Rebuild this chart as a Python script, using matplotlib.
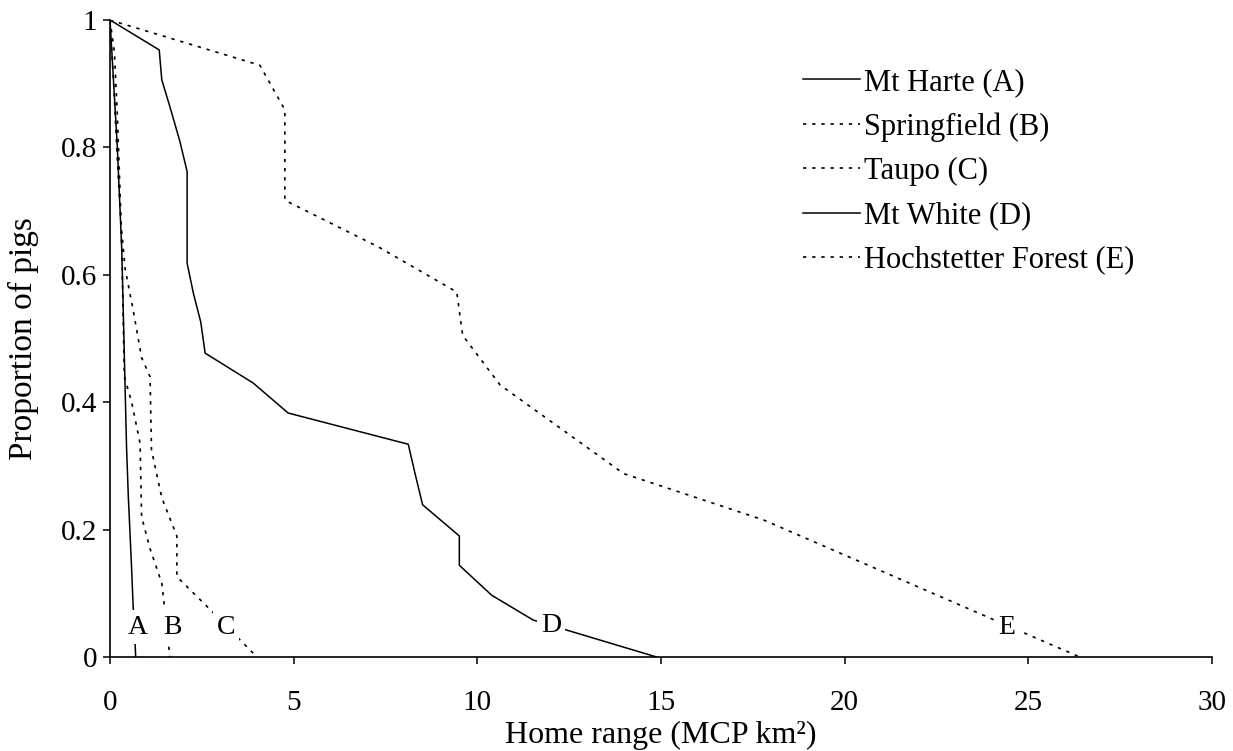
import matplotlib.pyplot as plt
from matplotlib.ticker import FixedLocator, FixedFormatter

plt.rcParams['font.family'] = ['Liberation Serif', 'DejaVu Serif']

# cumulative proportion of pigs vs home range (MCP km2)
harte_x = [0, 0.05, 0.2, 0.32, 0.4, 0.45, 0.5, 0.58, 0.63, 0.7]
harte_y = [1, 0.95, 0.8, 0.64, 0.45, 0.33, 0.25, 0.15, 0.08, 0]

spring_x = [0, 0.12, 0.2, 0.28, 0.33, 0.37, 0.39, 0.59, 0.82, 0.86, 1.09, 1.41, 1.48, 1.63]
spring_y = [1, 0.95, 0.85, 0.72, 0.62, 0.5, 0.44, 0.40, 0.335, 0.22, 0.17, 0.116, 0.08, 0]

taupo_x = [0, 0.1, 0.2, 0.3, 0.41, 0.63, 0.86, 1.09, 1.13, 1.41, 1.82, 1.82, 2.63, 4.0]
taupo_y = [1, 0.9, 0.78, 0.68, 0.61, 0.545, 0.47, 0.44, 0.325, 0.25, 0.19, 0.126, 0.08, 0]

white_x = [0, 1.34, 1.41, 1.63, 1.9, 2.1, 2.1, 2.27, 2.47, 2.59, 3.9, 4.85, 8.12, 8.3,
           8.51, 9.51, 9.51, 10.39, 11.52, 14.88]
white_y = [1, 0.953, 0.906, 0.864, 0.81, 0.762, 0.618, 0.571, 0.526, 0.477, 0.43, 0.383,
           0.334, 0.289, 0.239, 0.19, 0.144, 0.097, 0.058, 0]

hoch_x = [0, 4.08, 4.76, 4.76, 7.3, 9.44, 9.6, 10.62, 13.98, 17.8, 26.4]
hoch_y = [1, 0.929, 0.859, 0.717, 0.644, 0.573, 0.505, 0.427, 0.288, 0.215, 0]

names = ['Mt Harte (A)', 'Springfield (B)', 'Taupo (C)', 'Mt White (D)',
         'Hochstetter Forest (E)']
letters = ['A', 'B', 'C', 'D', 'E']
letter_x = [0.76, 1.69, 3.16, 12.0, 24.4]
letter_y = [0.047, 0.047, 0.047, 0.049, 0.047]

yticks = [0, 0.2, 0.4, 0.6, 0.8, 1]
ytick_labels = ['0', '0.2', '0.4', '0.6', '0.8', '1']

fig = plt.figure(figsize=(12.33, 7.51), dpi=100)
ax = fig.add_axes([110 / 1233, 1 - 657 / 751, 1102 / 1233, 637 / 751])

dot = (0, (2, 3.5))
ax.plot(harte_x, harte_y, color='black', lw=1.1, label=names[0])
ax.plot(spring_x, spring_y, color='black', lw=1.2, ls=dot, label=names[1])
ax.plot(taupo_x, taupo_y, color='black', lw=1.2, ls=dot, label=names[2])
ax.plot(white_x, white_y, color='black', lw=1.1, label=names[3])
ax.plot(hoch_x, hoch_y, color='black', lw=1.2, ls=dot, label=names[4])

for i in range(len(letters)):
    ax.text(letter_x[i], letter_y[i], letters[i], fontsize=20, ha='center', va='center',
            bbox=dict(facecolor='white', edgecolor='none', pad=3))

ax.set_xlim(0, 30)
ax.set_ylim(0, 1)
ax.set_xticks(range(0, 31, 5))
ax.yaxis.set_major_locator(FixedLocator(yticks))
ax.yaxis.set_major_formatter(FixedFormatter(ytick_labels))

for s in ['top', 'right']:
    ax.spines[s].set_visible(False)
for s in ['left', 'bottom']:
    ax.spines[s].set_linewidth(1.2)

ax.tick_params(axis='both', direction='out', length=5, width=1.1, labelsize=21)
ax.tick_params(axis='x', pad=19)
ax.tick_params(axis='y', pad=4)

ax.set_xlabel('Home range (MCP km²)', fontsize=23)
ax.set_ylabel('Proportion of pigs', fontsize=24)
ax.xaxis.set_label_coords(0.5, -0.1)
ax.yaxis.set_label_coords(-0.064, 0.5)

ax.legend(loc='upper left', bbox_to_anchor=(803 / 1233, 1 - 68 / 751),
          bbox_transform=fig.transFigure, frameon=False, fontsize=22,
          handlelength=1.85, handletextpad=0.15, labelspacing=0.5, borderpad=0,
          borderaxespad=0)

fig.savefig('out.png', dpi=100)
